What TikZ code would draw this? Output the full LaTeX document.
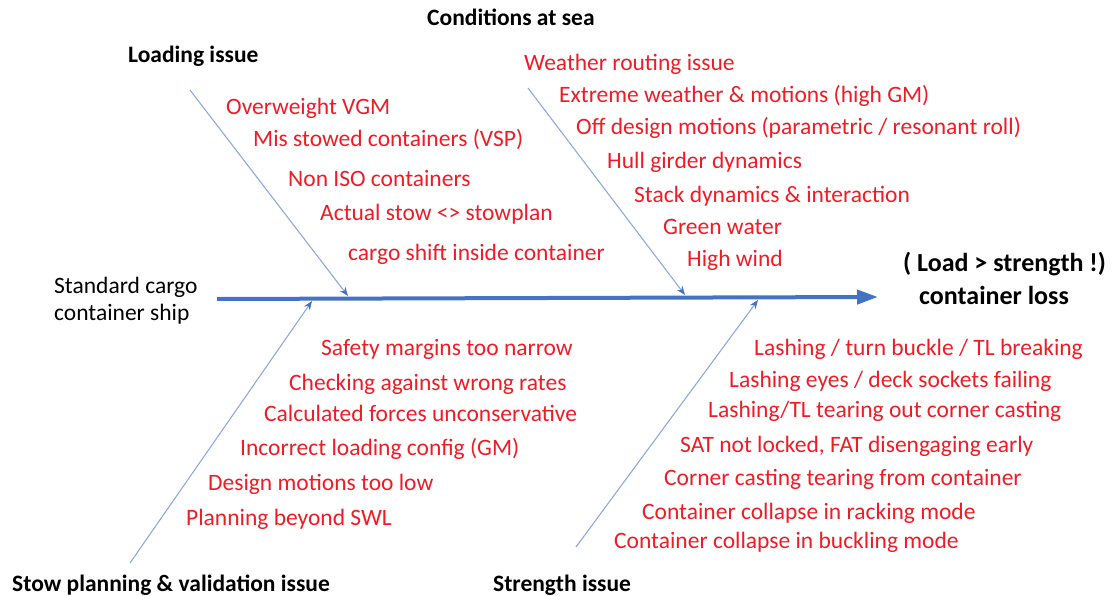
\documentclass[tikz,border=0pt]{standalone}
\usepackage{fontspec}
\setmainfont{Carlito}
\usetikzlibrary{arrows.meta}
\definecolor{spine}{HTML}{4472C4}
\definecolor{bone}{HTML}{8EA9DB}
\definecolor{cause}{HTML}{EE1C25}
\tikzset{
  causetxt/.style={anchor=base west, inner sep=0pt, text=cause, font=\fontsize{23.5}{28}\selectfont},
  headtxt/.style={anchor=base west, inner sep=0pt, text=black, font=\fontsize{23.5}{28}\selectfont\bfseries},
  shiptxt/.style={anchor=base west, inner sep=0pt, text=black, font=\fontsize{23.5}{28}\selectfont},
  efftxt/.style={anchor=base west, inner sep=0pt, text=black, font=\fontsize{26}{30}\selectfont\bfseries},
  spineline/.style={draw=spine, line width=4pt, -{Triangle[length=21pt,width=14pt]}},
  boneline/.style={draw=bone, line width=1.1pt, -{Stealth[length=9pt,width=7pt,color=spine]}}
}
\begin{document}
\begin{tikzpicture}[x=1pt,y=-1pt]
\useasboundingbox (0,0) rectangle (1114,596);
% headings
\node[headtxt] (hcond) at (427,26) {Conditions at sea};
\node[headtxt] (hload) at (128,63) {Loading issue};
\node[headtxt] (hstow) at (12,591) {Stow planning \& validation issue};
\node[headtxt] (hstr) at (493,591) {Strength issue};
% ship
\node[shiptxt] (ship1) at (54,293) {Standard cargo};
\node[shiptxt] (ship2) at (54,320) {container ship};
% effect
\node[efftxt] (eff1) at (903,272) {( Load > strength !)};
\node[efftxt] (eff2) at (919,304) {container loss};
% spine and bones
\coordinate (s0) at (217,299);
\coordinate (s1) at (878,297);
\draw[spineline] (s0) -- (s1);
\coordinate (la) at (190,90);
\coordinate (lb) at (348,296);
\coordinate (ca) at (528,88);
\coordinate (cb) at (685,295);
\coordinate (pa) at (130,563);
\coordinate (pb) at (312,301);
\coordinate (ta) at (576,547);
\coordinate (tb) at (758,300);
\draw[boneline] (la) -- (lb);
\draw[boneline] (ca) -- (cb);
\draw[boneline] (pa) -- (pb);
\draw[boneline] (ta) -- (tb);
% loading causes
\node[causetxt] (l1) at (226,115) {Overweight VGM};
\node[causetxt] (l2) at (253,147) {Mis stowed containers (VSP)};
\node[causetxt] (l3) at (288,187) {Non ISO containers};
\node[causetxt] (l4) at (320,221) {Actual stow <> stowplan};
\node[causetxt] (l5) at (348,261) {cargo shift inside container};
% conditions causes
\node[causetxt] (c1) at (524,71) {Weather routing issue};
\node[causetxt] (c2) at (559,103) {Extreme weather \& motions (high GM)};
\node[causetxt] (c3) at (576,135) {Off design motions (parametric / resonant roll)};
\node[causetxt] (c4) at (607,169) {Hull girder dynamics};
\node[causetxt] (c5) at (634,203) {Stack dynamics \& interaction};
\node[causetxt] (c6) at (663,235) {Green water};
\node[causetxt] (c7) at (687,266) {High wind};
% stow planning causes
\node[causetxt] (p1) at (321,355) {Safety margins too narrow};
\node[causetxt] (p2) at (289,390) {Checking against wrong rates};
\node[causetxt] (p3) at (264,421) {Calculated forces unconservative};
\node[causetxt] (p4) at (240,455) {Incorrect loading config (GM)};
\node[causetxt] (p5) at (208,490) {Design motions too low};
\node[causetxt] (p6) at (186,525) {Planning beyond SWL};
% strength causes
\node[causetxt] (t1) at (754,355) {Lashing / turn buckle / TL breaking};
\node[causetxt] (t2) at (729,387) {Lashing eyes / deck sockets failing};
\node[causetxt] (t3) at (708,417) {Lashing/TL tearing out corner casting};
\node[causetxt] (t4) at (680,452) {SAT not locked, FAT disengaging early};
\node[causetxt] (t5) at (664,485) {Corner casting tearing from container};
\node[causetxt] (t6) at (642,519) {Container collapse in racking mode};
\node[causetxt] (t7) at (614,548) {Container collapse in buckling mode};
\end{tikzpicture}
\end{document}
